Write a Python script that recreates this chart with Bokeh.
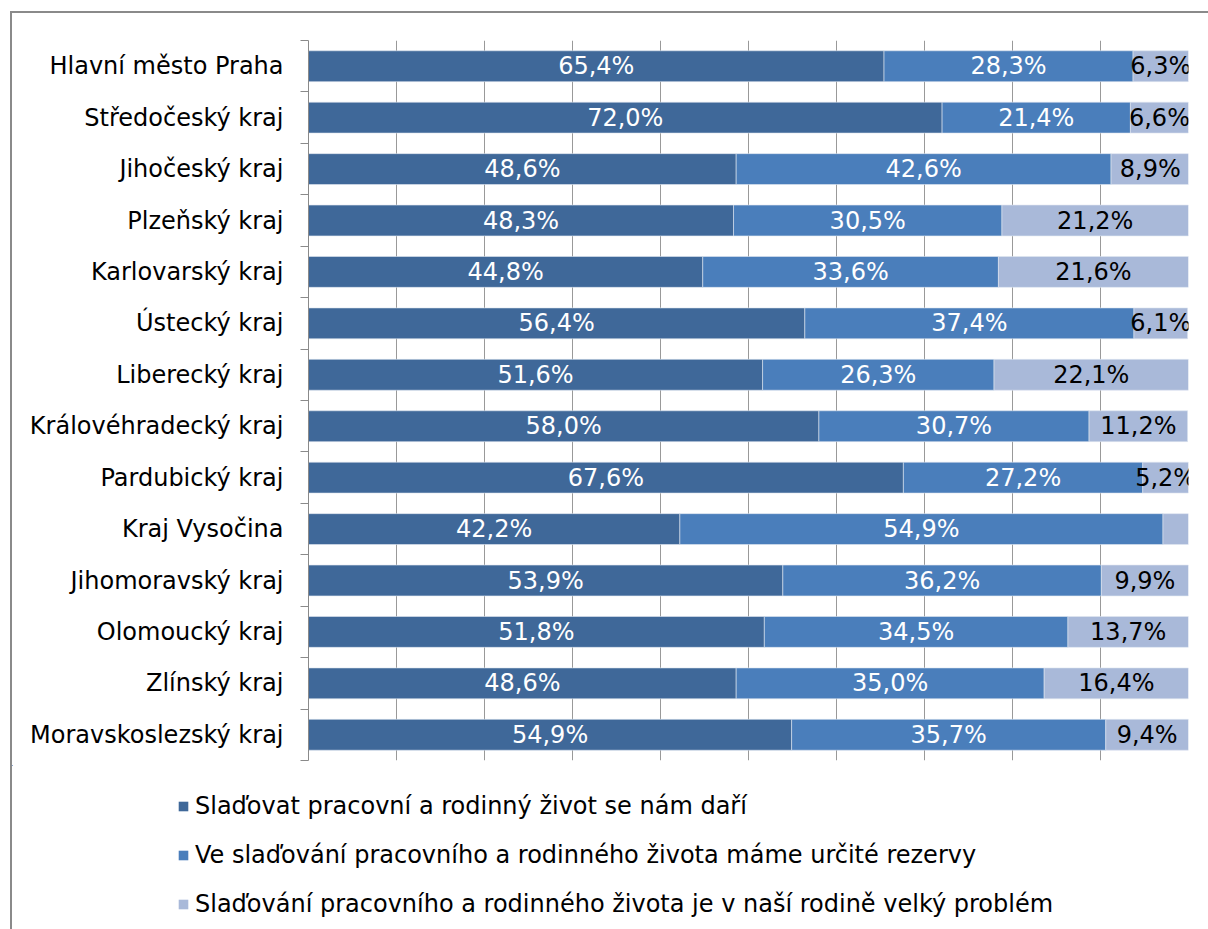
from bokeh.plotting import figure
from bokeh.layouts import column
from bokeh.models import ColumnDataSource, FixedTicker, Range1d, Legend, LegendItem
from bokeh.core.properties import value
from bokeh.embed import file_html
from bokeh.resources import INLINE

regions = ["Hlavní město Praha", "Středočeský kraj", "Jihočeský kraj", "Plzeňský kraj",
           "Karlovarský kraj", "Ústecký kraj", "Liberecký kraj", "Královéhradecký kraj",
           "Pardubický kraj", "Kraj Vysočina", "Jihomoravský kraj", "Olomoucký kraj",
           "Zlínský kraj", "Moravskoslezský kraj"]
dari = [65.4, 72.0, 48.6, 48.3, 44.8, 56.4, 51.6, 58.0, 67.6, 42.2, 53.9, 51.8, 48.6, 54.9]
rezervy = [28.3, 21.4, 42.6, 30.5, 33.6, 37.4, 26.3, 30.7, 27.2, 54.9, 36.2, 34.5, 35.0, 35.7]
problem = [6.3, 6.6, 8.9, 21.2, 21.6, 6.1, 22.1, 11.2, 5.2, 2.9, 9.9, 13.7, 16.4, 9.4]
problem_labelled = [True, True, True, True, True, True, True, True, True, False, True, True, True, True]
series_names = ["Slaďovat pracovní a rodinný život se nám daří",
                "Ve slaďování pracovního a rodinného života máme určité rezervy",
                "Slaďování pracovního a rodinného života je v naší rodině velký problém"]
colors = ["#3F6899", "#4A7EBB", "#A9B9D9"]
label_colors = ["white", "white", "black"]

FONT = "DejaVu Sans"
FS = "24px"

n = len(regions)
ys = list(range(n))

p = figure(width=1196, height=752, output_backend="svg", toolbar_location=None,
           x_range=Range1d(0, 100), y_range=Range1d(n - 0.5, -0.5),
           min_border_left=296, min_border_right=20, min_border_top=27, min_border_bottom=5)
p.frame_align = False
p.outline_line_color = None
p.background_fill_color = "white"
p.border_fill_color = "white"

# legend figure below the chart (its own frame covers the whole strip;
# its ranges keep the bars themselves out of view so only legend swatches show)
lf = figure(width=1196, height=164, output_backend="svg", toolbar_location=None,
            x_range=Range1d(1000, 1001), y_range=Range1d(-1000, -999),
            x_axis_location=None, y_axis_location=None,
            min_border_left=0, min_border_right=0, min_border_top=0, min_border_bottom=0)
lf.frame_align = False
lf.outline_line_color = None
lf.xgrid.grid_line_color = None
lf.ygrid.grid_line_color = None

series = [dari, rezervy, problem]
lefts = [0.0] * n
items = []
for k, vals in enumerate(series):
    rights = [l + v for l, v in zip(lefts, vals)]
    mids = [(l + r) / 2 for l, r in zip(lefts, rights)]
    if k == 2:
        labels = [f"{v:.1f}%".replace(".", ",") if show else "" for v, show in zip(vals, problem_labelled)]
    else:
        labels = [f"{v:.1f}%".replace(".", ",") for v in vals]
    src = ColumnDataSource(dict(y=ys, left=lefts, right=rights, mid=mids, label=labels))
    p.hbar(y="y", left="left", right="right", height=0.6, source=src,
           fill_color=colors[k], line_color="#dfe6f0", line_width=0.6)
    p.text(x="mid", y="y", text="label", source=src, text_align="center",
           text_baseline="middle", text_color=label_colors[k],
           text_font=value(FONT), text_font_size=FS)
    lr = lf.hbar(y="y", left="left", right="right", height=0.6, source=src,
                 fill_color=colors[k], line_color=None)
    items.append(LegendItem(label=series_names[k], renderers=[lr]))
    lefts = rights

# axes
p.xaxis.visible = False
p.xgrid.ticker = FixedTicker(ticks=list(range(0, 101, 10)))
p.xgrid.grid_line_color = "#999999"
p.xgrid.grid_line_width = 1
p.ygrid.grid_line_color = None

yax = p.yaxis[0]
yax.ticker = FixedTicker(ticks=ys, minor_ticks=[i - 0.5 for i in range(n + 1)])
yax.major_label_overrides = {i: name for i, name in enumerate(regions)}
yax.major_tick_out = 0
yax.major_tick_in = 0
yax.minor_tick_out = 8
yax.minor_tick_in = 0
yax.minor_tick_line_color = "#8a8a8a"
yax.axis_line_color = "#8a8a8a"
yax.major_label_standoff = 17
yax.major_label_text_font = FONT
yax.major_label_text_font_size = FS
yax.major_label_text_color = "black"

legend = Legend(items=items, location=(165, 11), orientation="vertical",
                glyph_width=12, glyph_height=12, label_standoff=6, spacing=21,
                padding=0, margin=0, border_line_color=None, background_fill_alpha=0,
                label_text_font=FONT, label_text_font_size=FS, label_text_color="black")
lf.add_layout(legend, "center")

layout = column(p, lf, spacing=0,
                styles={"margin-left": "10px", "margin-top": "11px",
                        "border-left": "2px solid #8a8a8a", "border-top": "2px solid #8a8a8a"})

open("out.html", "w").write(file_html(layout, INLINE))
